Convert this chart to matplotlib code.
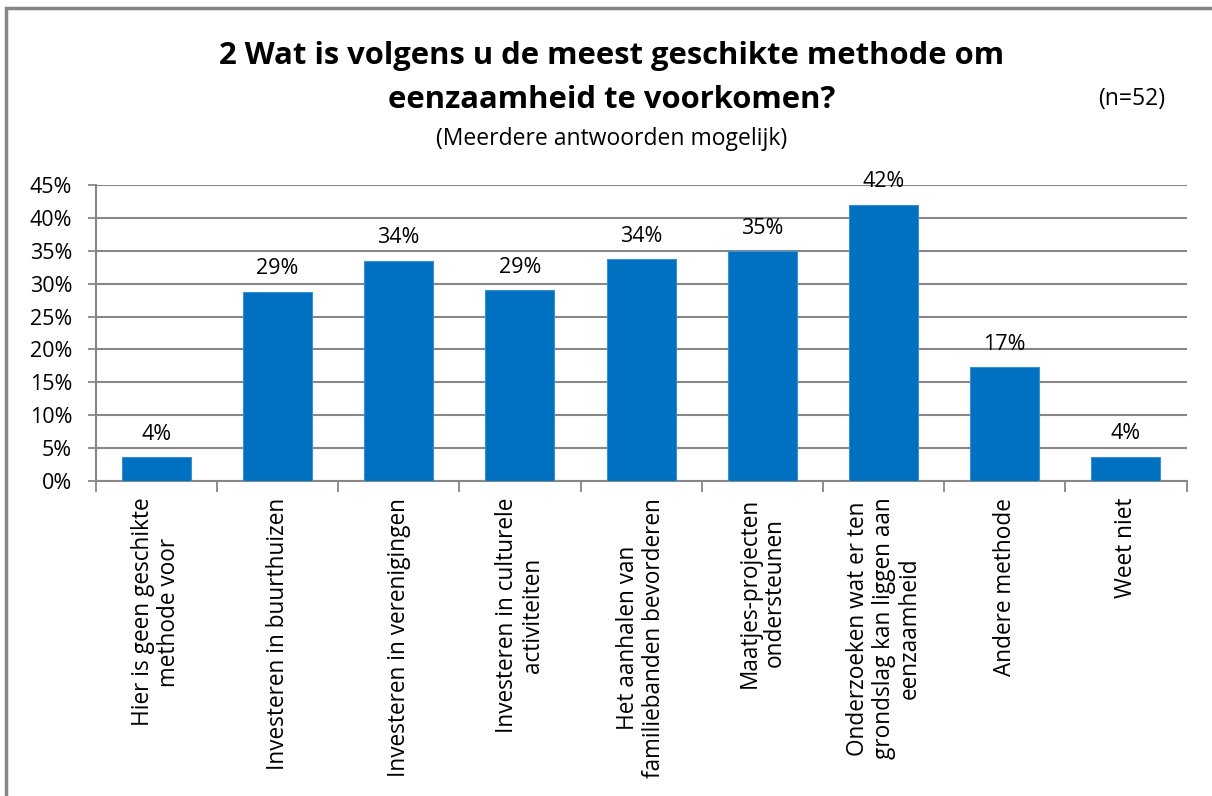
import numpy as np
import matplotlib.pyplot as plt
from matplotlib.patches import Rectangle
from matplotlib.ticker import FuncFormatter

categories = [
    "Hier is geen geschikte\nmethode voor",
    "Investeren in buurthuizen",
    "Investeren in verenigingen",
    "Investeren in culturele\nactiviteiten",
    "Het aanhalen van\nfamiliebanden bevorderen",
    "Maatjes-projecten\nondersteunen",
    "Onderzoeken wat er ten\ngrondslag kan liggen aan\neenzaamheid",
    "Andere methode",
    "Weet niet",
]
values = [3.6, 28.8, 33.5, 29.0, 33.7, 34.9, 42.0, 17.3, 3.7]
labels = ["4%", "29%", "34%", "29%", "34%", "35%", "42%", "17%", "4%"]
yticks = [0, 5, 10, 15, 20, 25, 30, 35, 40, 45]

plt.rcParams['font.family'] = ['Open Sans', 'DejaVu Sans']
grey = '#878787'
blue = '#0070C0'

fig = plt.figure(figsize=(12.12, 7.96), dpi=100)
ax = fig.add_axes([0.079, 0.3957, 0.900, 0.3719])

x = np.arange(len(categories))
ax.bar(x, values, width=0.57, color=blue, edgecolor='#3c8fd0', linewidth=0.8, zorder=3)
for xi, v, lab in zip(x, values, labels):
    ax.annotate(lab, (xi, v), xytext=(0, 9), textcoords='offset points',
                ha='center', va='bottom', fontsize=15.5, color='black')

ax.set_xlim(-0.5, len(categories) - 0.5)
ax.set_ylim(0, 45)
ax.set_yticks(yticks)
ax.yaxis.set_major_formatter(FuncFormatter(lambda v, p: "%d%%" % v))
ax.tick_params(axis='y', labelsize=15.5, length=6, width=1.3, color=grey, pad=11)
ax.grid(axis='y', color=grey, linewidth=1.5, zorder=0)

# category boundaries as tick marks, labels in between
ax.set_xticks(np.arange(-0.5, len(categories), 1.0))
ax.set_xticklabels([])
ax.tick_params(axis='x', length=8, width=1.3, color=grey)
ax.set_xticks(x, minor=True)
ax.set_xticklabels(categories, minor=True, rotation=90, fontsize=16.3,
                   va='top', ha='center', linespacing=1.1)
ax.tick_params(axis='x', which='minor', length=0, pad=12)

for s in ['top', 'right']:
    ax.spines[s].set_visible(False)
for s in ['left', 'bottom']:
    ax.spines[s].set_color(grey)
    ax.spines[s].set_linewidth(1.5)

fig.text(0.505, 0.930, "2 Wat is volgens u de meest geschikte methode om",
         ha='center', va='center', fontsize=22.3, fontweight='bold')
fig.text(0.505, 0.874, "eenzaamheid te voorkomen?",
         ha='center', va='center', fontsize=22.3, fontweight='bold')
fig.text(0.934, 0.876, "(n=52)", ha='center', va='center', fontsize=16.5)
fig.text(0.505, 0.826, "(Meerdere antwoorden mogelijk)",
         ha='center', va='center', fontsize=16.5)

# chart frame
fig.patches.append(Rectangle((0.005, -0.05), 1.2, 1.04, transform=fig.transFigure,
                             fill=False, edgecolor=grey, linewidth=2.5))

fig.savefig("out.png", dpi=100)
